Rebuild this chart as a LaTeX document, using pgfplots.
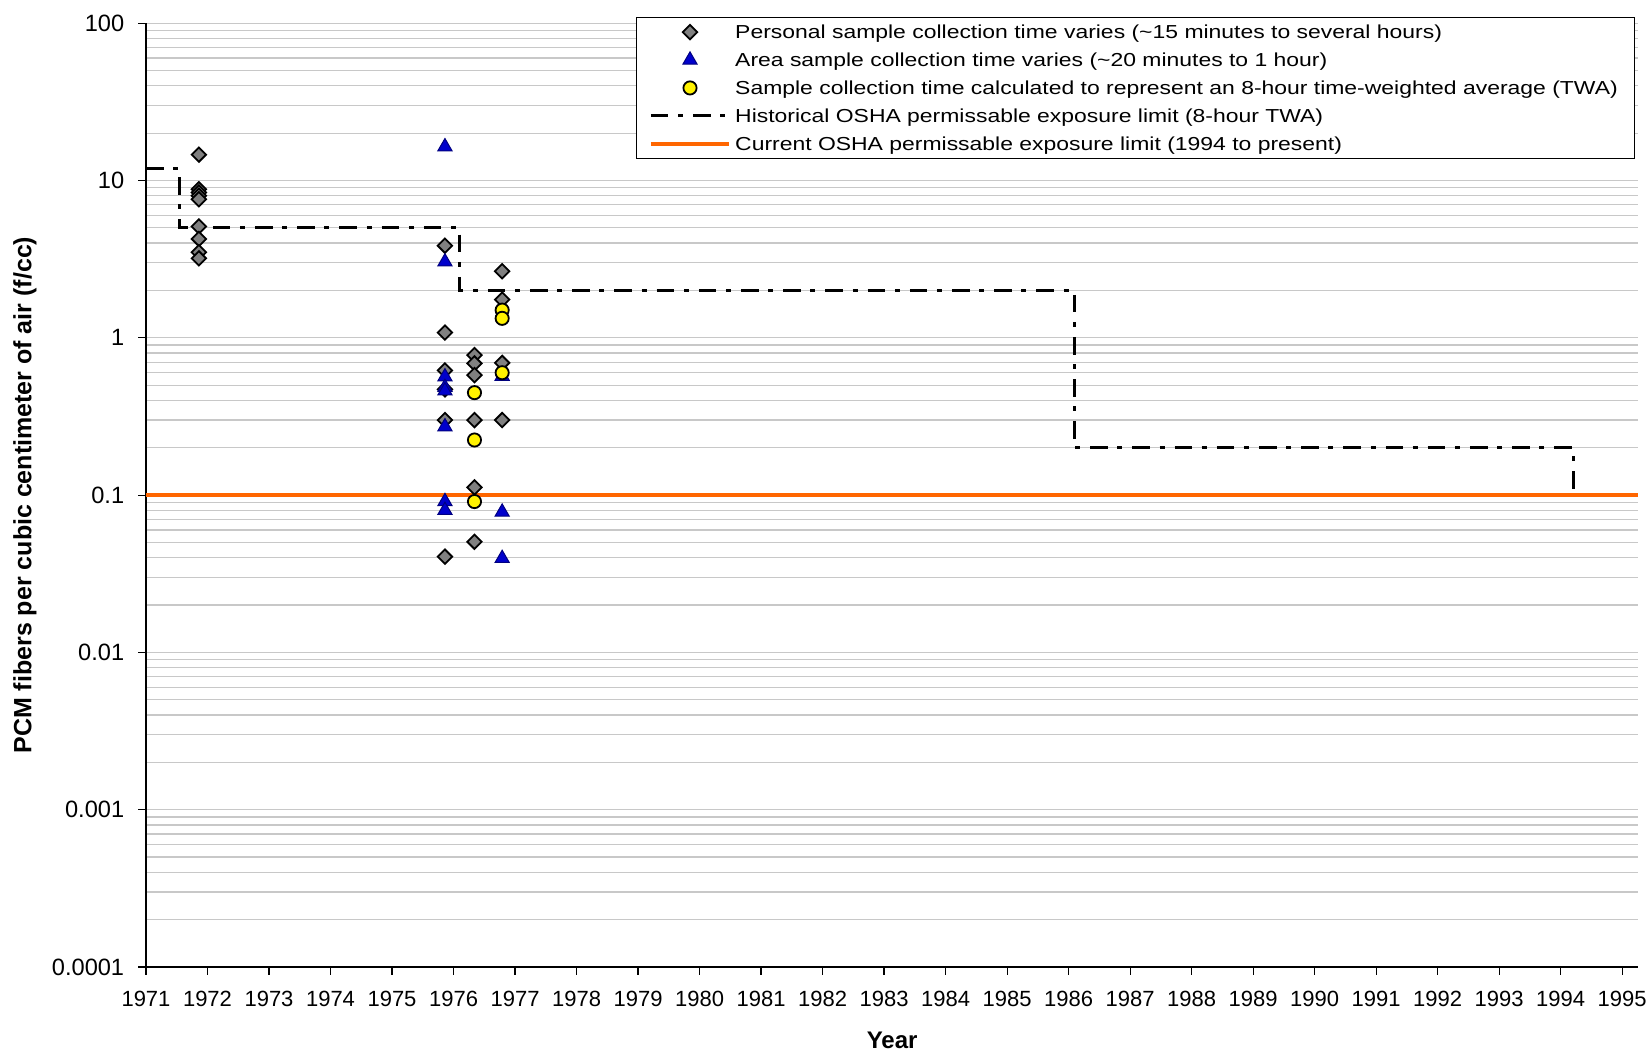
\documentclass[border=0pt]{standalone}
\usepackage{fontspec}
\setmainfont{Liberation Sans}
\newfontfamily\legfont[FakeStretch=1.22]{Liberation Sans}
\usepackage{pgfplots}
\pgfplotsset{compat=1.18}
\definecolor{diagray}{HTML}{808080}
\definecolor{tribl}{HTML}{0000CC}
\definecolor{tribd}{HTML}{000080}
\definecolor{oshaorange}{HTML}{FF6600}
\definecolor{gridgray}{HTML}{C8C8C8}
\pgfplotsset{
  markleg/.style={legend image code/.code={\draw[##1] plot coordinates {(19.6pt,0pt)};}},
  lineleg/.style={legend image code/.code={\draw[##1] (0pt,0pt) -- (39.2pt,0pt);}},
}
\begin{document}
\begin{tikzpicture}
\useasboundingbox (-73pt,-41.5pt) rectangle (752pt,483.5pt);
\begin{axis}[
  scale only axis,
  width=746.15pt, height=471.9pt,
  at={(0pt,0pt)}, anchor=south west,
  ymode=log,
  xmin=1971, xmax=1995.26,
  ymin=1e-4, ymax=100,
  axis x line=bottom, axis y line=left,
  x axis line style={-, line width=0.6pt},
  y axis line style={-, line width=0.6pt},
  tick align=outside,
  major tick length=3.8pt,
  minor tick length=0pt,
  tick style={black, line width=0.6pt},
  xtick={1971,1972,...,1995},
  xticklabel style={/pgf/number format/1000 sep={}, /pgf/number format/assume math mode=true,
    font=\fontsize{11}{13}\selectfont, yshift=-4.9pt},
  ytick={1e-4,1e-3,1e-2,1e-1,1,10,100},
  yticklabels={0.0001,0.001,0.01,0.1,1,10,100},
  yticklabel style={font=\fontsize{11.8}{14}\selectfont, xshift=-3.6pt},
  minor ytick={2e-4,3e-4,4e-4,5e-4,6e-4,7e-4,8e-4,9e-4,
               2e-3,3e-3,4e-3,5e-3,6e-3,7e-3,8e-3,9e-3,
               2e-2,3e-2,4e-2,5e-2,6e-2,7e-2,8e-2,9e-2,
               0.2,0.3,0.4,0.5,0.6,0.7,0.8,0.9,
               2,3,4,5,6,7,8,9,
               20,30,40,50,60,70,80,90},
  ymajorgrids, yminorgrids,
  major grid style={gridgray, line width=0.6pt},
  minor grid style={gridgray, line width=0.6pt},
  xlabel={Year},
  ylabel={PCM fibers per cubic centimeter of air (f/cc)},
  every axis x label/.style={at={(axis description cs:0.5,0)}, anchor=center, yshift=-36.5pt,
    font=\fontsize{12}{14}\selectfont\bfseries},
  every axis y label/.style={at={(axis description cs:0,0.5)}, anchor=center, rotate=90, yshift=60.5pt,
    font=\fontsize{12.5}{14}\selectfont\bfseries},
  clip=false,
  legend style={at={(axis description cs:0.3283,1.0069)}, anchor=north west,
    draw=black, line width=0.5pt, fill=white,
    font=\legfont\fontsize{9.4}{11}\selectfont, inner xsep=6.2pt, inner ysep=0.5pt, row sep=0pt,
    nodes={inner xsep=2pt, inner ysep=0pt, text height=10.3pt, text depth=3.65pt}},
  legend cell align=left,
]
% lines (drawn first, no legend)
\addplot[oshaorange, line width=2pt, forget plot] coordinates {(1971,0.1) (1995.26,0.1)};
\addplot[black, line width=1.5pt, dash pattern=on 8.8pt off 4.8pt on 2.5pt off 5pt, forget plot]
  coordinates {(1971,12) (1971.54,12) (1971.54,5) (1976.09,5) (1976.09,2) (1986.09,2) (1986.09,0.2) (1994.2,0.2) (1994.2,0.1)};
% personal samples
\addplot[only marks, mark=square*, mark size=2.55pt,
  mark options={rotate=45, fill=diagray, draw=black, line width=0.9pt}, markleg]
  coordinates {
  (1971.86,14.6) (1971.86,8.8) (1971.86,8.4) (1971.86,8.0) (1971.86,7.6)
  (1971.86,5.1) (1971.86,4.25) (1971.86,3.5) (1971.86,3.2)
  (1975.86,3.85) (1975.86,1.08) (1975.86,0.62) (1975.86,0.47) (1975.86,0.30) (1975.86,0.0406)
  (1976.34,0.776) (1976.34,0.687) (1976.34,0.579) (1976.34,0.30) (1976.34,0.112) (1976.34,0.0505)
  (1976.79,2.65) (1976.79,1.75) (1976.79,0.693) (1976.79,0.30)
  };
\addlegendentry{Personal sample collection time varies (\textasciitilde 15 minutes to several hours)}
% area samples
\addplot[only marks, mark=triangle*, mark size=4.1pt,
  mark options={fill=tribl, draw=tribd, line width=0.5pt}, markleg]
  coordinates {
  (1975.86,16.4) (1975.86,3.04) (1975.86,0.565) (1975.86,0.484) (1975.86,0.46)
  (1975.86,0.272) (1975.86,0.091) (1975.86,0.080)
  (1976.79,0.57) (1976.79,0.078) (1976.79,0.0396)
  };
\addlegendentry{Area sample collection time varies (\textasciitilde 20 minutes to 1 hour)}
% TWA samples
\addplot[only marks, mark=*, mark size=3.3pt,
  mark options={fill=yellow, draw=black, line width=0.9pt}, markleg]
  coordinates {
  (1976.34,0.448) (1976.34,0.224) (1976.34,0.091)
  (1976.79,1.50) (1976.79,1.33) (1976.79,0.60)
  };
\addlegendentry{Sample collection time calculated to represent an 8-hour time-weighted average (TWA)}
\addlegendimage{black, line width=1.5pt, dash pattern=on 8.8pt off 4.8pt on 2.5pt off 5pt, lineleg}
\addlegendentry{Historical OSHA permissable exposure limit (8-hour TWA)}
\addlegendimage{oshaorange, line width=2pt, lineleg}
\addlegendentry{Current OSHA permissable exposure limit (1994 to present)}
\end{axis}
\end{tikzpicture}
\end{document}
